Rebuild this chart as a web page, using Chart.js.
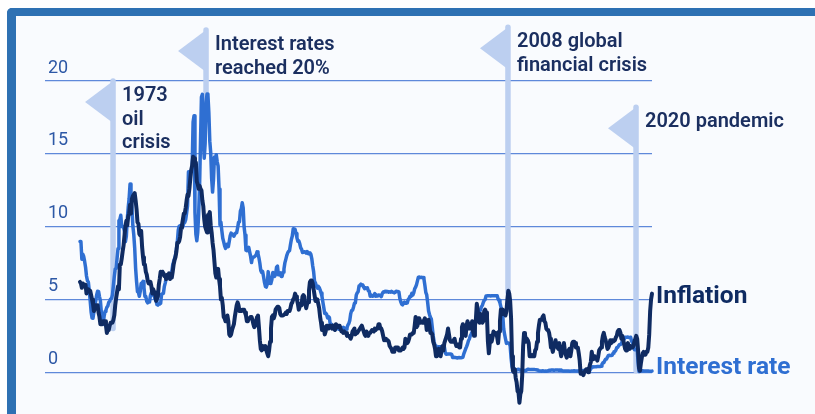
<!DOCTYPE html>
<html>
<head>
<meta charset="utf-8">
<script src="https://cdn.jsdelivr.net/npm/chart.js@4/dist/chart.umd.min.js"></script>
<style>
  html, body { margin: 0; padding: 0; background: #ffffff; }
  #wrap { position: relative; width: 815px; height: 414px; overflow: hidden; }
  #frame {
    position: absolute; left: 7px; top: 8px; width: 830px; height: 430px;
    border-left: 9px solid #2e71b3; border-top: 8px solid #2e71b3;
    border-top-left-radius: 5px; background: #f9fbfe;
  }
  #rates { position: absolute; left: 0; top: 0; }
</style>
</head>
<body>
<div id="wrap">
  <div id="frame"></div>
  <canvas id="rates" width="815" height="414"></canvas>
</div>
<script>
// Monthly series, January 1970 through June 2021 (percent)
const startYear = 1970;

const inflation = [
  6.2, 6.1, 5.8, 6.1, 6.0, 6.0, 6.0, 5.4, 5.7, 5.7, 5.6, 5.6,
  5.3, 5.0, 4.7, 4.2, 4.4, 4.6, 4.4, 4.6, 4.1, 3.8, 3.3, 3.3,
  3.3, 3.5, 3.5, 3.5, 3.2, 2.7, 2.9, 2.9, 3.2, 3.4, 3.4, 3.4,
  3.6, 3.9, 4.6, 5.1, 5.5, 5.9, 5.7, 7.4, 7.4, 7.8, 8.3, 8.7,
  9.4, 10.0, 10.4, 10.1, 10.7, 10.9, 11.5, 10.9, 11.9, 12.1, 12.2, 12.3,
  11.8, 11.2, 10.3, 10.2, 9.5, 9.4, 9.7, 8.6, 7.9, 7.4, 7.4, 6.9,
  6.7, 6.3, 6.1, 6.1, 6.2, 5.9, 5.4, 5.7, 5.5, 5.5, 4.9, 4.9,
  5.2, 6.0, 6.4, 6.9, 6.7, 6.9, 6.8, 6.6, 6.6, 6.4, 6.7, 6.7,
  6.8, 6.4, 6.6, 6.5, 6.9, 7.4, 7.7, 7.9, 8.3, 8.9, 8.9, 9.0,
  9.3, 9.9, 10.1, 10.5, 10.9, 10.9, 11.3, 11.8, 12.2, 12.1, 12.6, 13.3,
  13.9, 14.2, 14.8, 14.7, 14.4, 14.4, 13.1, 12.9, 12.6, 12.8, 12.6, 12.5,
  11.8, 11.4, 10.5, 10.0, 9.8, 9.6, 10.8, 10.8, 11.0, 10.1, 9.6, 8.9,
  8.4, 7.6, 6.8, 6.5, 6.7, 7.1, 6.4, 5.9, 5.0, 5.1, 4.6, 3.8,
  3.7, 3.5, 3.6, 3.9, 3.5, 2.6, 2.5, 2.6, 2.9, 2.9, 3.3, 3.8,
  4.2, 4.6, 4.8, 4.6, 4.2, 4.2, 4.2, 4.3, 4.3, 4.3, 4.1, 3.9,
  3.5, 3.5, 3.7, 3.7, 3.8, 3.8, 3.6, 3.3, 3.1, 3.2, 3.5, 3.8,
  3.9, 3.1, 2.2, 1.6, 1.5, 1.8, 1.6, 1.6, 1.8, 1.5, 1.3, 1.1,
  1.5, 2.1, 3.0, 3.8, 3.9, 3.7, 3.9, 4.3, 4.4, 4.5, 4.5, 4.4,
  4.0, 3.9, 3.9, 3.9, 3.9, 4.0, 4.1, 4.0, 4.2, 4.2, 4.2, 4.4,
  4.7, 4.8, 5.0, 5.1, 5.4, 5.2, 5.0, 4.7, 4.3, 4.5, 4.7, 4.6,
  5.2, 5.3, 5.2, 4.7, 4.4, 4.7, 4.8, 5.6, 6.2, 6.3, 6.3, 6.1,
  5.7, 5.3, 4.9, 4.9, 5.0, 4.7, 4.4, 3.8, 3.4, 2.9, 3.0, 3.1,
  2.6, 2.8, 3.2, 3.2, 3.0, 3.1, 3.2, 3.1, 3.0, 3.2, 3.0, 2.9,
  3.3, 3.2, 3.1, 3.2, 3.2, 3.0, 2.8, 2.8, 2.7, 2.8, 2.7, 2.7,
  2.5, 2.5, 2.5, 2.4, 2.3, 2.5, 2.8, 2.9, 3.0, 2.6, 2.7, 2.7,
  2.8, 2.9, 2.9, 3.1, 3.2, 3.0, 2.8, 2.6, 2.5, 2.8, 2.6, 2.5,
  2.7, 2.7, 2.8, 2.9, 2.9, 2.8, 3.0, 2.9, 3.0, 3.0, 3.3, 3.3,
  3.0, 3.0, 2.8, 2.5, 2.2, 2.3, 2.2, 2.2, 2.2, 2.1, 1.8, 1.7,
  1.6, 1.4, 1.4, 1.4, 1.7, 1.7, 1.7, 1.6, 1.5, 1.5, 1.5, 1.6,
  1.7, 1.6, 1.7, 2.3, 2.1, 2.0, 2.1, 2.3, 2.6, 2.6, 2.6, 2.7,
  2.7, 3.2, 3.8, 3.1, 3.2, 3.7, 3.7, 3.4, 3.5, 3.4, 3.4, 3.4,
  3.7, 3.5, 2.9, 3.3, 3.6, 3.2, 2.7, 2.7, 2.6, 2.1, 1.9, 1.6,
  1.1, 1.1, 1.5, 1.6, 1.2, 1.1, 1.5, 1.8, 1.5, 2.0, 2.2, 2.4,
  2.6, 3.0, 3.0, 2.2, 2.1, 2.1, 2.1, 2.2, 2.3, 2.0, 1.8, 1.9,
  1.9, 1.7, 1.7, 2.3, 3.1, 3.3, 3.0, 2.7, 2.5, 3.2, 3.5, 3.3,
  3.0, 3.0, 3.1, 3.5, 2.8, 2.5, 3.2, 3.6, 4.7, 4.3, 3.5, 3.4,
  4.0, 3.6, 3.4, 3.5, 4.2, 4.3, 4.1, 3.8, 2.1, 1.3, 2.0, 2.5,
  2.1, 2.4, 2.8, 2.6, 2.7, 2.7, 2.4, 2.0, 2.8, 3.5, 4.3, 4.1,
  4.3, 4.0, 4.0, 3.9, 4.2, 5.0, 5.6, 5.4, 4.9, 3.7, 1.1, 0.1,
  0.0, 0.2, -0.4, -0.7, -1.3, -1.4, -2.1, -1.5, -1.3, -0.2, 1.8, 2.7,
  2.6, 2.1, 2.3, 2.2, 2.0, 1.1, 1.2, 1.1, 1.1, 1.2, 1.1, 1.5,
  1.6, 2.1, 2.7, 3.2, 3.6, 3.6, 3.6, 3.8, 3.9, 3.5, 3.4, 3.0,
  2.9, 2.9, 2.7, 2.3, 1.7, 1.7, 1.4, 1.7, 2.0, 2.2, 1.8, 1.7,
  1.6, 2.0, 1.5, 1.1, 1.4, 1.8, 2.0, 1.5, 1.2, 1.0, 1.2, 1.5,
  1.6, 1.1, 1.5, 2.0, 2.1, 2.1, 2.0, 1.7, 1.7, 1.7, 1.3, 0.8,
  -0.1, 0.0, -0.1, -0.2, 0.0, 0.1, 0.2, 0.2, 0.0, 0.2, 0.5, 0.7,
  1.4, 1.0, 0.9, 1.1, 1.0, 1.0, 0.8, 1.1, 1.5, 1.6, 1.7, 2.1,
  2.5, 2.7, 2.4, 2.2, 1.9, 1.6, 1.7, 1.9, 2.2, 2.0, 2.2, 2.1,
  2.1, 2.2, 2.4, 2.5, 2.8, 2.9, 2.9, 2.7, 2.3, 2.5, 2.2, 1.9,
  1.6, 1.5, 1.9, 2.0, 1.8, 1.6, 1.8, 1.7, 1.7, 1.8, 2.1, 2.3,
  2.5, 2.3, 1.5, 0.3, 0.1, 0.6, 1.0, 1.3, 1.4, 1.2, 1.2, 1.4,
  1.4, 1.7, 2.6, 4.2, 5.0, 5.4
];

const interestRate = [
  8.98, 8.98, 7.76, 8.10, 7.95, 7.61, 7.21, 6.61, 6.29, 6.20, 5.60, 4.90,
  4.14, 3.72, 3.71, 4.16, 4.63, 4.91, 5.31, 5.56, 5.55, 5.20, 4.91, 4.14,
  3.50, 3.29, 3.83, 4.17, 4.27, 4.46, 4.55, 4.80, 4.87, 5.04, 5.06, 5.33,
  5.94, 6.58, 7.09, 7.12, 7.84, 8.49, 10.40, 10.50, 10.78, 10.01, 10.03, 9.95,
  9.65, 8.97, 9.35, 10.51, 11.31, 11.93, 12.92, 12.01, 11.34, 10.06, 9.45, 8.53,
  7.13, 6.24, 5.54, 5.49, 5.22, 5.55, 6.10, 6.14, 6.24, 5.82, 5.22, 5.20,
  4.87, 4.77, 4.84, 4.82, 5.29, 5.48, 5.31, 5.29, 5.25, 5.03, 4.95, 4.65,
  4.61, 4.68, 4.69, 4.73, 5.35, 5.39, 5.42, 5.90, 6.14, 6.47, 6.51, 6.56,
  6.70, 6.78, 6.79, 6.89, 7.36, 7.60, 7.81, 8.04, 8.45, 8.96, 9.76, 10.03,
  10.07, 10.06, 10.09, 10.01, 10.24, 10.29, 10.47, 10.94, 11.43, 13.77, 13.18, 13.78,
  13.82, 14.13, 17.19, 17.61, 10.98, 9.47, 9.03, 9.61, 10.87, 12.81, 15.85, 18.90,
  19.08, 15.93, 14.70, 15.72, 18.52, 19.10, 19.04, 17.82, 15.87, 15.08, 13.31, 12.37,
  13.22, 14.78, 14.68, 14.94, 14.45, 14.15, 12.59, 10.12, 10.31, 9.71, 9.20, 8.95,
  8.68, 8.51, 8.77, 8.80, 8.63, 8.98, 9.37, 9.56, 9.45, 9.48, 9.34, 9.47,
  9.56, 9.59, 9.91, 10.29, 10.32, 11.06, 11.23, 11.64, 11.30, 9.99, 9.43, 8.38,
  8.35, 8.50, 8.58, 8.27, 7.97, 7.53, 7.88, 7.90, 7.92, 7.99, 8.05, 8.27,
  8.14, 7.86, 7.48, 6.99, 6.85, 6.92, 6.56, 6.17, 5.89, 5.85, 6.04, 6.91,
  6.43, 6.10, 6.13, 6.37, 6.85, 6.73, 6.58, 6.73, 7.22, 7.29, 6.69, 6.77,
  6.83, 6.58, 6.58, 6.87, 7.09, 7.51, 7.75, 8.01, 8.19, 8.30, 8.35, 8.76,
  9.12, 9.36, 9.85, 9.84, 9.81, 9.53, 9.24, 8.99, 9.02, 8.84, 8.55, 8.45,
  8.23, 8.24, 8.28, 8.26, 8.18, 8.29, 8.15, 8.13, 8.20, 8.11, 7.81, 7.31,
  6.91, 6.25, 6.12, 5.91, 5.78, 5.90, 5.82, 5.66, 5.45, 5.21, 4.81, 4.43,
  4.03, 4.06, 3.98, 3.73, 3.82, 3.76, 3.25, 3.30, 3.22, 3.10, 3.09, 2.92,
  2.96, 3.03, 3.07, 2.96, 3.00, 3.04, 3.06, 3.03, 3.09, 2.99, 3.02, 2.96,
  3.05, 3.25, 3.34, 3.56, 4.01, 4.25, 4.26, 4.47, 4.73, 4.76, 5.29, 5.45,
  5.53, 5.92, 5.98, 6.05, 6.01, 6.00, 5.85, 5.74, 5.80, 5.76, 5.80, 5.60,
  5.56, 5.22, 5.31, 5.22, 5.24, 5.27, 5.40, 5.22, 5.30, 5.24, 5.31, 5.29,
  5.25, 5.19, 5.39, 5.51, 5.50, 5.56, 5.52, 5.54, 5.54, 5.50, 5.52, 5.50,
  5.56, 5.51, 5.49, 5.45, 5.49, 5.56, 5.54, 5.55, 5.51, 5.07, 4.83, 4.68,
  4.63, 4.76, 4.81, 4.74, 4.74, 4.76, 4.99, 5.07, 5.22, 5.20, 5.42, 5.30,
  5.45, 5.73, 5.85, 6.02, 6.27, 6.53, 6.54, 6.50, 6.52, 6.51, 6.51, 6.40,
  5.98, 5.49, 5.31, 4.80, 4.21, 3.97, 3.77, 3.65, 3.07, 2.49, 2.09, 1.82,
  1.73, 1.74, 1.73, 1.75, 1.75, 1.75, 1.73, 1.74, 1.75, 1.75, 1.34, 1.24,
  1.24, 1.26, 1.25, 1.26, 1.26, 1.22, 1.01, 1.03, 1.01, 1.01, 1.00, 0.98,
  1.00, 1.01, 1.00, 1.00, 1.00, 1.03, 1.26, 1.43, 1.61, 1.76, 1.93, 2.16,
  2.28, 2.50, 2.63, 2.79, 3.00, 3.04, 3.26, 3.50, 3.62, 3.78, 4.00, 4.16,
  4.29, 4.49, 4.59, 4.79, 4.94, 4.99, 5.24, 5.25, 5.25, 5.25, 5.25, 5.24,
  5.25, 5.26, 5.26, 5.25, 5.25, 5.25, 5.26, 5.02, 4.94, 4.76, 4.49, 4.24,
  3.94, 2.98, 2.61, 2.28, 1.98, 2.00, 2.01, 2.00, 1.81, 0.97, 0.39, 0.16,
  0.15, 0.22, 0.18, 0.15, 0.18, 0.21, 0.16, 0.16, 0.15, 0.12, 0.12, 0.12,
  0.11, 0.13, 0.16, 0.20, 0.20, 0.18, 0.18, 0.19, 0.19, 0.19, 0.19, 0.18,
  0.17, 0.16, 0.14, 0.10, 0.09, 0.09, 0.07, 0.10, 0.08, 0.07, 0.08, 0.07,
  0.08, 0.10, 0.13, 0.14, 0.16, 0.16, 0.16, 0.13, 0.14, 0.16, 0.16, 0.16,
  0.14, 0.15, 0.14, 0.15, 0.11, 0.09, 0.09, 0.08, 0.08, 0.09, 0.08, 0.09,
  0.07, 0.07, 0.08, 0.09, 0.09, 0.10, 0.09, 0.09, 0.09, 0.09, 0.09, 0.12,
  0.11, 0.11, 0.11, 0.12, 0.12, 0.13, 0.13, 0.14, 0.14, 0.12, 0.12, 0.24,
  0.34, 0.38, 0.36, 0.37, 0.37, 0.38, 0.39, 0.40, 0.40, 0.40, 0.41, 0.54,
  0.65, 0.66, 0.79, 0.90, 0.91, 1.04, 1.15, 1.16, 1.15, 1.15, 1.16, 1.30,
  1.41, 1.42, 1.51, 1.69, 1.70, 1.82, 1.91, 1.91, 1.95, 2.19, 2.20, 2.27,
  2.40, 2.40, 2.41, 2.42, 2.39, 2.38, 2.40, 2.13, 2.04, 1.83, 1.55, 1.55,
  1.55, 1.58, 0.65, 0.05, 0.05, 0.08, 0.09, 0.10, 0.09, 0.09, 0.09, 0.09,
  0.09, 0.08, 0.07, 0.07, 0.06, 0.08
];

const yTicks = [0, 5, 10, 15, 20];

// Event flags: position in years, top and foot of the pole in percent
const flagYears = [1972.97, 1981.33, 2008.47, 2019.98];
const flagTops = [20.0, 23.5, 23.7, 18.2];
const flagFeet = [3.0, 18.5, 5.5, 0.1];
const flagTitles = [
  ['1973', 'oil', 'crisis'],
  ['Interest rates', 'reached 20%'],
  ['2008 global', 'financial crisis'],
  ['2020 pandemic']
];

const toPoints = values => values.map((v, i) => ({ x: startYear + i / 12, y: v }));

const flagsPlugin = {
  id: 'flags',
  beforeDatasetsDraw(chart) {
    const { ctx, scales: { x, y } } = chart;
    ctx.save();
    ctx.fillStyle = '#bccff0';
    ctx.strokeStyle = '#bccff0';
    ctx.lineWidth = 5.5;
    ctx.lineCap = 'round';
    ctx.lineJoin = 'round';
    flagYears.forEach((yr, i) => {
      const px = x.getPixelForValue(yr);
      const top = y.getPixelForValue(flagTops[i]);
      const foot = y.getPixelForValue(flagFeet[i]);
      ctx.beginPath();
      ctx.moveTo(px, top);
      ctx.lineTo(px, foot);
      ctx.stroke();
      // pennant
      ctx.beginPath();
      ctx.moveTo(px, top);
      ctx.lineTo(px - 28, top + 21);
      ctx.lineTo(px, top + 42);
      ctx.closePath();
      ctx.fill();
    });
    ctx.restore();
  },
  afterDatasetsDraw(chart) {
    const { ctx, scales: { x, y } } = chart;
    ctx.save();
    ctx.font = '600 20px Roboto, "Noto Sans", sans-serif';
    ctx.fillStyle = '#1b2f60';
    ctx.textAlign = 'left';
    ctx.textBaseline = 'alphabetic';
    flagYears.forEach((yr, i) => {
      const px = x.getPixelForValue(yr);
      const top = y.getPixelForValue(flagTops[i]);
      flagTitles[i].forEach((line, j) => {
        ctx.fillText(line, px + 9, top + 20 + j * 23.5);
      });
    });

    // series names at the end of each line
    ctx.font = 'bold 24.5px Roboto, "Noto Sans", sans-serif';
    ctx.textBaseline = 'middle';
    chart.data.datasets.forEach((ds, i) => {
      const meta = chart.getDatasetMeta(i);
      const last = meta.data[meta.data.length - 1];
      ctx.fillStyle = ds.borderColor;
      ctx.fillText(ds.label, last.x + 4, last.y + ds.labelShift);
    });
    ctx.restore();
  }
};

new Chart(document.getElementById('rates'), {
  type: 'line',
  data: {
    datasets: [
      {
        label: 'Inflation',
        data: toPoints(inflation),
        borderColor: '#0f2b62',
        borderWidth: 4,
        labelShift: 3,
        clip: false,
        order: 0
      },
      {
        label: 'Interest rate',
        data: toPoints(interestRate),
        borderColor: '#2f6fd2',
        borderWidth: 3.5,
        labelShift: -3,
        clip: false,
        order: 1
      }
    ]
  },
  options: {
    responsive: false,
    animation: false,
    events: [],
    layout: { padding: { left: 45, right: 163, top: 20, bottom: 4 } },
    elements: {
      point: { radius: 0 },
      line: { tension: 0, borderJoinStyle: 'round', borderCapStyle: 'round' }
    },
    plugins: {
      legend: { display: false },
      tooltip: { enabled: false }
    },
    scales: {
      x: {
        type: 'linear',
        min: 1966.854,
        max: startYear + (inflation.length - 1) / 12,
        display: false
      },
      y: {
        min: -1.92,
        max: 24.19,
        afterBuildTicks: scale => { scale.ticks = yTicks.map(v => ({ value: v })); },
        afterFit: scale => { scale.width = 0; },
        border: { display: false },
        grid: { color: '#5f89da', lineWidth: 1.3, drawTicks: false },
        ticks: {
          mirror: true,
          padding: 3,
          labelOffset: -13,
          color: '#2d58a6',
          font: { family: 'Roboto', size: 18 }
        }
      }
    }
  },
  plugins: [flagsPlugin]
});
</script>
</body>
</html>
